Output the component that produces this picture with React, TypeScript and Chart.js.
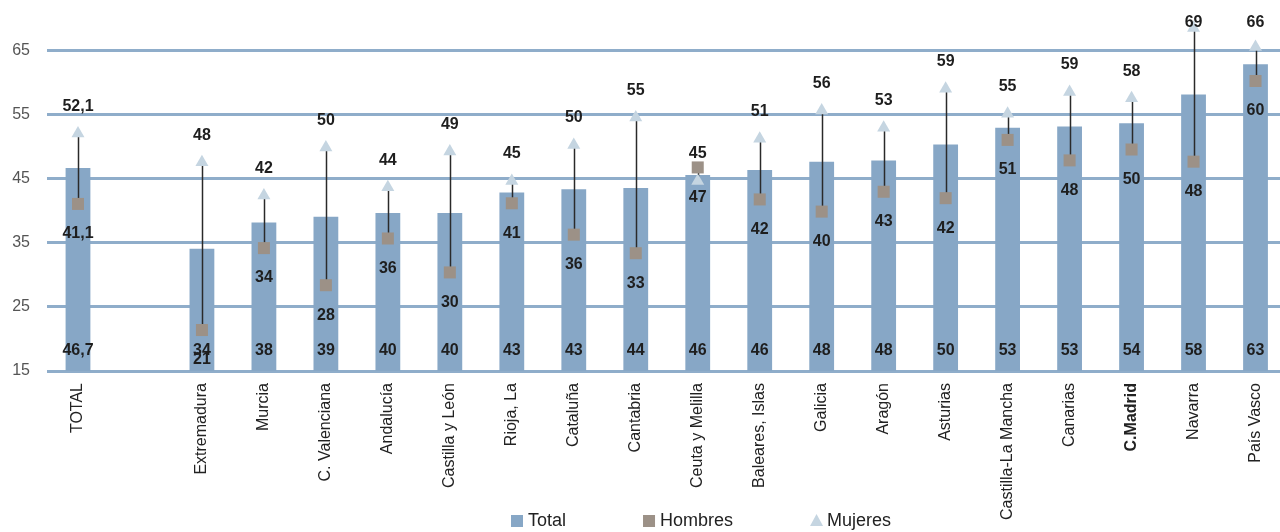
import React, { useEffect, useRef } from 'react';
import { Chart, registerables } from 'chart.js';

Chart.register(...registerables);

const categories = ['TOTAL', '', 'Extremadura', 'Murcia', 'C. Valenciana', 'Andalucía', 'Castilla y León', 'Rioja, La', 'Cataluña', 'Cantabria', 'Ceuta y Melilla', 'Baleares, Islas', 'Galicia', 'Aragón', 'Asturias', 'Castilla-La Mancha', 'Canarias', 'C.Madrid', 'Navarra', 'País Vasco'];
const totalValues = [46.7, null, 34.1, 38.2, 39.1, 39.7, 39.7, 42.9, 43.4, 43.6, 45.6, 46.4, 47.7, 47.9, 50.4, 53.0, 53.2, 53.7, 58.2, 62.9];
const hombresValues = [41.1, null, 21.4, 34.2, 28.4, 35.7, 30.4, 41.2, 36.3, 33.4, 46.8, 41.8, 39.9, 43.0, 42.0, 51.1, 47.9, 49.6, 47.7, 60.3];
const mujeresValues = [52.1, null, 47.6, 42.4, 49.9, 43.7, 49.3, 44.7, 50.3, 54.6, 44.7, 51.3, 55.7, 53.0, 59.1, 55.2, 58.6, 57.6, 68.6, 65.6];
const yTicks = [15, 25, 35, 45, 55, 65];
const boldCategory = 'C.Madrid';
const seriesNames = ['Total', 'Hombres', 'Mujeres'];

const BAR_COLOR = '#87a7c6';
const MEN_COLOR = '#9c9187';
const WOMEN_COLOR = '#c5d5e1';
const GRID_COLOR = '#8fadca';
const FONT = "'Liberation Sans', Arial, sans-serif";

const fmt = (v: number, i: number) => (i === 0 ? v.toFixed(1).replace('.', ',') : String(Math.round(v)));

const overlayPlugin = {
  id: 'overlay',
  afterDatasetDraw(chart: any, args: any) {
    if (args.index !== 0) return;
    const ctx = chart.ctx;
    const xs = chart.scales.x;
    const ys = chart.scales.y;
    ctx.save();
    ctx.strokeStyle = '#2a2a2a';
    ctx.lineWidth = 1.5;
    categories.forEach((_, i) => {
      const h = hombresValues[i];
      const m = mujeresValues[i];
      if (h == null || m == null) return;
      const px = Math.round(xs.getPixelForValue(i)) + 0.5;
      ctx.beginPath();
      ctx.moveTo(px, ys.getPixelForValue(h));
      ctx.lineTo(px, ys.getPixelForValue(m));
      ctx.stroke();
    });
    ctx.restore();
  },
  afterDraw(chart: any) {
    const ctx = chart.ctx;
    const xs = chart.scales.x;
    const ys = chart.scales.y;
    const area = chart.chartArea;
    ctx.save();
    ctx.fillStyle = '#1e1e1e';
    ctx.font = `bold 16px ${FONT}`;
    ctx.textAlign = 'center';
    ctx.textBaseline = 'middle';
    categories.forEach((_, i) => {
      const px = xs.getPixelForValue(i);
      const t = totalValues[i];
      const h = hombresValues[i];
      const m = mujeresValues[i];
      if (t != null) ctx.fillText(fmt(t, i), px, area.bottom - 20);
      if (h != null) ctx.fillText(fmt(h, i), px, ys.getPixelForValue(h) + 30);
      if (m != null) ctx.fillText(fmt(m, i), px, Math.max(ys.getPixelForValue(m) - 27, 23));
    });

    // legend
    const ly = 521;
    ctx.font = `18px ${FONT}`;
    ctx.textAlign = 'left';
    ctx.fillStyle = '#222';
    let lx = 511;
    seriesNames.forEach((name, k) => {
      if (k === 2) {
        ctx.fillStyle = WOMEN_COLOR;
        ctx.beginPath();
        ctx.moveTo(lx + 6.5, ly - 7);
        ctx.lineTo(lx + 13, ly + 5);
        ctx.lineTo(lx, ly + 5);
        ctx.closePath();
        ctx.fill();
      } else {
        ctx.fillStyle = k === 0 ? BAR_COLOR : MEN_COLOR;
        ctx.fillRect(lx, ly - 6, 12, 12);
      }
      ctx.fillStyle = '#222';
      ctx.fillText(name, lx + 17, ly);
      const w = ctx.measureText(name).width;
      lx += 17 + w + 77;
    });
    ctx.restore();
  },
};

export default function App() {
  const ref = useRef<HTMLCanvasElement>(null);
  useEffect(() => {
    if (!ref.current) return;
    const chart = new Chart(ref.current, {
      type: 'bar',
      data: {
        labels: categories,
        datasets: [
          {
            type: 'bar',
            label: seriesNames[0],
            data: totalValues as any,
            backgroundColor: BAR_COLOR,
            categoryPercentage: 1,
            barPercentage: 0.4,
            order: 2,
          },
          {
            type: 'line',
            label: seriesNames[1],
            data: hombresValues as any,
            showLine: false,
            pointStyle: 'rect',
            pointRadius: 8.5,
            pointBackgroundColor: MEN_COLOR,
            pointBorderWidth: 0,
            clip: false,
            order: 1,
          },
          {
            type: 'line',
            label: seriesNames[2],
            data: mujeresValues as any,
            showLine: false,
            pointStyle: 'triangle',
            pointRadius: 7.5,
            pointBackgroundColor: WOMEN_COLOR,
            pointBorderWidth: 0,
            clip: false,
            order: 0,
          },
        ],
      },
      options: {
        responsive: false,
        animation: false,
        devicePixelRatio: 1,
        layout: { padding: { left: 0, right: 5, top: 18, bottom: 0 } },
        plugins: { legend: { display: false }, tooltip: { enabled: false } },
        scales: {
          x: {
            type: 'category',
            offset: true,
            grid: { display: false },
            border: { display: false },
            afterFit: (s: any) => { s.height = 161; },
            ticks: {
              autoSkip: false,
              maxRotation: 90,
              minRotation: 90,
              padding: 4,
              color: '#222',
              font: (c: any) => ({ family: FONT, size: 16, weight: categories[c.index] === boldCategory ? 'bold' : 'normal' }),
            },
          },
          y: {
            min: 15,
            max: 68.8,
            afterBuildTicks: (s: any) => { s.ticks = yTicks.map((v) => ({ value: v })); },
            afterFit: (s: any) => { s.width = 47; },
            grid: { color: GRID_COLOR, lineWidth: 3, drawTicks: false },
            border: { display: false },
            ticks: { padding: 17, color: '#555', font: { family: FONT, size: 16 } },
          },
        },
      },
      plugins: [overlayPlugin],
    });
    return () => chart.destroy();
  }, []);
  return (
    <div style={{ position: 'absolute', left: 0, top: 0, width: 1280, height: 532, overflow: 'hidden', background: '#fff' }}>
      <canvas ref={ref} width={1295} height={532} style={{ display: 'block' }} />
    </div>
  );
}
